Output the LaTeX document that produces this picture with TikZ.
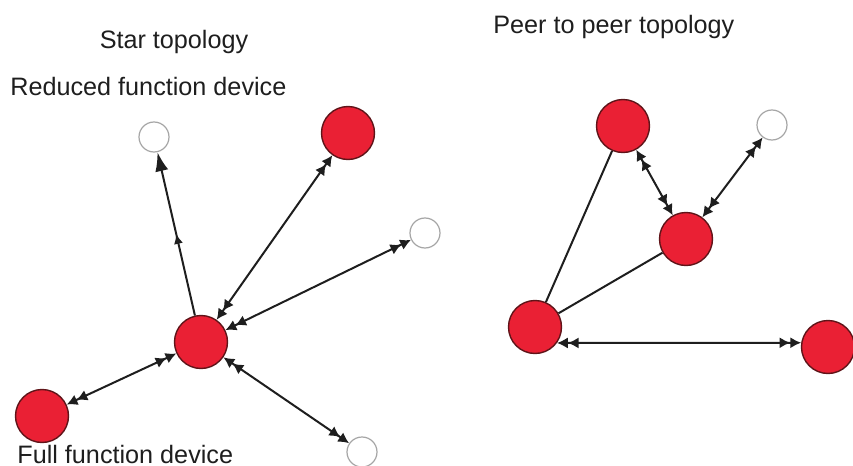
\documentclass[tikz,border=0pt]{standalone}
\usepackage{fontspec}
\setmainfont{Liberation Sans}
\usetikzlibrary{arrows.meta,decorations.markings}

\definecolor{nodered}{RGB}{234,32,52}
\definecolor{rimred}{RGB}{95,20,25}
\definecolor{inkgray}{RGB}{30,30,30}

\tikzset{
  twin/.tip={Latex[length=5.4pt,width=5.6pt] Latex[length=5.4pt,width=5.6pt]}
}

\begin{document}
\begin{tikzpicture}[
  x=0.5pt,y=-0.5pt,
  ffd/.style={circle,draw=rimred,fill=nodered,line width=0.7pt,minimum size=26.5pt,inner sep=0pt},
  rfd/.style={circle,draw=gray!70,fill=white,line width=0.6pt,minimum size=15pt,inner sep=0pt},
  caption/.style={font=\fontsize{12.6}{15}\selectfont,text=inkgray,inner sep=0pt},
  link/.style={draw=inkgray,line width=1pt},
  midarrow/.style={postaction={decorate},
    decoration={markings,mark=at position 0.5 with {\arrow{Latex[length=5pt,width=4.6pt]}}}},
  >={Latex[length=9.5pt,width=6.6pt]}
]
\useasboundingbox (0,0) rectangle (853,466);

% star: one coordinator in the middle
\node[ffd] (hub) at (201,342) {};
\node[rfd] (rn)  at (154,137) {};
\node[ffd] (fne) at (348,133) {};
\node[rfd] (re)  at (425,233) {};
\node[ffd] (fsw) at (42,416) {};
\node[rfd] (rs)  at (362,452) {};

% peer to peer
\node[ffd] (pn) at (623,126) {};
\node[rfd] (pr) at (772,125) {};
\node[ffd] (pm) at (686,239) {};
\node[ffd] (pw) at (535,327) {};
\node[ffd] (pe) at (828,347) {};

\node[caption,anchor=base] (startitle) at (174,48) {Star topology};
\node[caption,anchor=base west] (rfdlabel) at (10,96) {Reduced function device};
\node[caption,anchor=base west] (ffdlabel) at (17,463) {Full function device};
\node[caption,anchor=base west] (p2ptitle) at (493,33) {Peer to peer topology};

\draw[link,->,midarrow] (hub) -- (rn);
\draw[link,twin-twin] (hub) -- (fne);
\draw[link,twin-twin] (hub) -- (re);
\draw[link,twin-twin] (hub) -- (fsw);
\draw[link,twin-twin] (hub) -- (rs);

\draw[link] (pn) -- (pw);
\draw[link] (pm) -- (pw);
\draw[link,twin-twin] (pn) -- (pm);
\draw[link,twin-twin] (pm) -- (pr);
\draw[link,twin-twin] (pw.-36) -- (pe.171.5);
\end{tikzpicture}
\end{document}
